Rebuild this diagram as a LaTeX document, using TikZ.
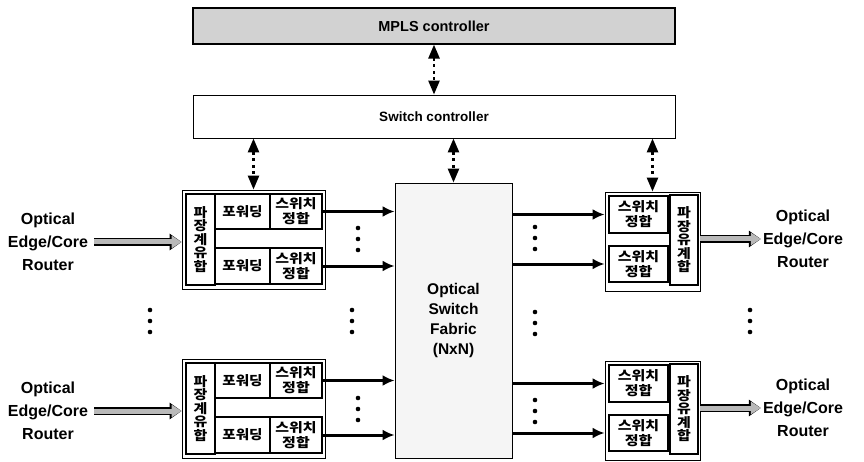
\documentclass[tikz,border=0pt]{standalone}
\usepackage{fontspec}
\setmainfont{Liberation Sans}
\newfontfamily\kr{Noto Sans CJK KR}
\usetikzlibrary{arrows.meta}
\newcommand\mydots[2]{\fill (#1,#2-11) circle (2.3pt) (#1,#2) circle (2.3pt) (#1,#2+11) circle (2.3pt);}
\begin{document}
\begin{tikzpicture}[x=1pt,y=-1pt,
 outer/.style={draw, line width=0.9pt, inner sep=0pt},
 inbox/.style={draw, line width=1.6pt, inner sep=0pt},
 ctl/.style={line width=2.6pt, dash pattern=on 3pt off 3.5pt, {Triangle[length=14pt,width=11pt]}-{Triangle[length=14pt,width=11pt]}},
 thk/.style={line width=3pt, -{Latex[length=12pt,width=11pt]}},
 bigarr/.style={line width=5pt, draw=gray!55, -{Triangle[length=10pt,width=12pt]}, preaction={draw=black, line width=7.5pt, -{Triangle[length=12pt,width=16pt]}}},
 lbl/.style={align=center, font=\bfseries\fontsize{16}{23}\selectfont, inner sep=0pt},
 krf/.style={font=\kr\bfseries\fontsize{13}{15}\selectfont, align=center},
 vert/.style={font=\kr\bfseries\fontsize{13}{13.5}\selectfont, align=center},
]
\useasboundingbox (0,0) rectangle (864,462);
% controllers
\node[outer, line width=1.2pt, fill=gray!35, minimum width=482pt, minimum height=36pt, font=\bfseries\fontsize{14.5}{16}\selectfont] (mpls) at (434,26) {MPLS controller};
\node[outer, minimum width=482pt, minimum height=43pt, font=\bfseries\fontsize{13.5}{16}\selectfont] (swc) at (434,116.5) {Switch controller};
% fabric
\node[outer, fill=gray!8, minimum width=117pt, minimum height=275pt, align=center, font=\bfseries\fontsize{15.5}{20}\selectfont] (fab) at (453.5,320.5) {Optical\\Switch\\Fabric\\(NxN)};
% left modules
\foreach \k/\dy in {1/0, 2/169} {
  \node[outer, minimum width=143pt, minimum height=99pt] (lm\k) at (253.5,239.5+\dy) {};
  \node[inbox, vert, minimum width=29pt, minimum height=91pt] (lv\k) at (200.5,239.5+\dy) {\scalebox{1.15}[1]{파}\\\scalebox{1.15}[1]{장}\\\scalebox{1.15}[1]{계}\\\scalebox{1.15}[1]{유}\\\scalebox{1.15}[1]{합}};
  \node[inbox, krf, minimum width=55pt, minimum height=35pt] (lfa\k) at (242.5,211.5+\dy) {\scalebox{1.12}[1]{포워딩}};
  \node[inbox, krf, minimum width=52pt, minimum height=35pt] (lsa\k) at (296,211.5+\dy) {\scalebox{1.15}[1]{스위치}\\\scalebox{1.15}[1]{정합}};
  \node[inbox, krf, minimum width=55pt, minimum height=36pt] (lfb\k) at (242.5,266+\dy) {\scalebox{1.12}[1]{포워딩}};
  \node[inbox, krf, minimum width=52pt, minimum height=36pt] (lsb\k) at (296,266+\dy) {\scalebox{1.15}[1]{스위치}\\\scalebox{1.15}[1]{정합}};
  \draw[thk] (lsa\k.east) -- (lsa\k.east -| fab.west);
  \draw[thk] (lsb\k.east) -- (lsb\k.east -| fab.west);
  \node[lbl] (lt\k) at (48,242+\dy) {Optical\\Edge/Core\\Router};
  \draw[bigarr] ([xshift=6pt]lt\k.east) -- (lm\k.west |- lt\k.east);
}
% right modules
\foreach \k/\dy in {1/0, 2/169} {
  \node[outer, minimum width=95pt, minimum height=99pt] (rm\k) at (652.5,241.5+\dy) {};
  \node[inbox, krf, minimum width=59pt, minimum height=37pt] (rsa\k) at (638.5,214.5+\dy) {\scalebox{1.15}[1]{스위치}\\\scalebox{1.15}[1]{정합}};
  \node[inbox, krf, minimum width=59pt, minimum height=36pt] (rsb\k) at (638.5,264+\dy) {\scalebox{1.15}[1]{스위치}\\\scalebox{1.15}[1]{정합}};
  \node[inbox, vert, minimum width=28pt, minimum height=90pt] (rv\k) at (684,240+\dy) {\scalebox{1.15}[1]{파}\\\scalebox{1.15}[1]{장}\\\scalebox{1.15}[1]{유}\\\scalebox{1.15}[1]{계}\\\scalebox{1.15}[1]{합}};
  \draw[thk] (fab.east |- rsa\k.west) -- (rm\k.west |- rsa\k.west);
  \draw[thk] (fab.east |- rsb\k.west) -- (rm\k.west |- rsb\k.west);
  \node[lbl] (rt\k) at (803,239+\dy) {Optical\\Edge/Core\\Router};
  \draw[bigarr] (rm\k.east |- rt\k.west) -- ([xshift=-2pt]rt\k.west);
}
% control arrows
\draw[ctl] (mpls.south) -- (swc.north);
\draw[ctl] (swc.south -| lm1.north) -- (lm1.north);
\draw[ctl] (swc.south -| fab.north) -- (fab.north);
\draw[ctl] (swc.south -| rm1.north) -- (rm1.north);
% continuation dots
\mydots{358}{239}
\mydots{358}{409}
\mydots{352}{321}
\mydots{150}{321}
\mydots{535}{238}
\mydots{535}{323}
\mydots{535}{411}
\mydots{750}{321}
\end{tikzpicture}
\end{document}
